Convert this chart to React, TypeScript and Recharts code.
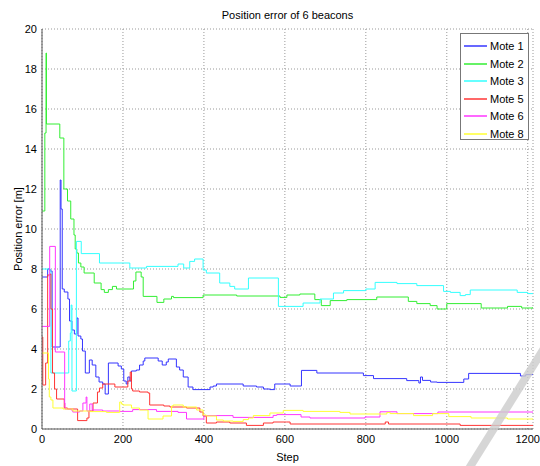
import { LineChart, Line, XAxis, YAxis, CartesianGrid } from "recharts"

// step number, position error [m] (value holds until the next step)
const mote1: [number, number][] = [
  [0, 7.6], [14, 8.0], [20, 7.9], [25, 4.1], [45, 12.45], [47, 11.0], [50, 7.0], [55, 6.85],
  [64, 6.5], [68, 5.4], [74, 4.95], [80, 4.75], [86, 5.55], [89, 4.65], [96, 4.5], [100, 3.9],
  [107, 2.8], [117, 3.45], [124, 3.2], [133, 2.6], [141, 2.35], [150, 2.25], [156, 1.75],
  [164, 3.3], [188, 3.15], [196, 3.0], [202, 2.4], [208, 2.25], [212, 2.6], [217, 2.4],
  [221, 2.9], [233, 2.95], [241, 3.2], [250, 3.4], [254, 3.55], [287, 3.4], [297, 3.2],
  [307, 3.35], [312, 3.5], [332, 3.1], [340, 2.95], [349, 2.6], [361, 2.1], [373, 1.97],
  [415, 2.1], [423, 2.15], [431, 2.25], [497, 2.15], [530, 2.1], [547, 2.0], [563, 1.97],
  [575, 2.25], [613, 2.15], [641, 2.93], [679, 2.8], [794, 2.67], [819, 2.52], [901, 2.42],
  [931, 2.3], [935, 2.6], [940, 2.43], [960, 2.35], [976, 2.33], [1042, 2.5], [1054, 2.78],
  [1182, 2.65], [1195, 2.72], [1213, 2.7],
]

const mote2: [number, number][] = [
  [0, 10.9], [7, 14.8], [10, 18.8], [11, 15.25], [44, 14.55], [54, 12.0], [63, 11.4],
  [71, 10.5], [79, 9.7], [82, 9.0], [86, 8.8], [90, 8.3], [96, 8.1], [104, 7.8], [129, 7.3],
  [146, 6.97], [154, 6.83], [164, 6.97], [174, 7.13], [184, 7.0], [222, 7.0], [226, 7.4],
  [232, 7.85], [245, 7.6], [250, 6.63], [284, 6.33], [301, 6.5], [320, 6.63], [325, 6.57],
  [398, 6.7], [481, 6.65], [588, 6.58], [605, 6.7], [637, 6.75], [674, 6.47], [690, 6.17],
  [712, 6.42], [753, 6.47], [827, 6.6], [905, 6.38], [926, 6.27], [959, 6.17], [976, 6.0],
  [1000, 6.27], [1085, 6.05], [1150, 6.13], [1185, 6.05], [1213, 6.1],
]

const mote3: [number, number][] = [
  [0, 8.0], [20, 7.9], [22, 2.8], [66, 4.4], [70, 4.8], [72, 6.2], [74, 1.9], [85, 9.38],
  [97, 8.77], [142, 8.3], [217, 8.05], [258, 8.13], [336, 8.25], [350, 8.05], [365, 8.38],
  [377, 8.5], [398, 7.95], [406, 7.8], [439, 7.3], [464, 7.13], [476, 7.0], [510, 7.55],
  [584, 6.13], [645, 6.3], [687, 6.5], [720, 6.8], [745, 6.92], [800, 7.0], [823, 7.33],
  [877, 7.27], [926, 7.17], [992, 6.88], [1009, 6.83], [1033, 6.67], [1046, 6.72],
  [1058, 6.95], [1174, 6.83], [1200, 6.77], [1213, 6.77],
]

const mote5: [number, number][] = [
  [0, 4.6], [2, 2.2], [9, 3.3], [14, 7.7], [20, 7.75], [22, 6.0], [26, 2.8], [31, 2.0],
  [36, 1.5], [55, 1.05], [63, 1.0], [88, 0.42], [111, 0.55], [116, 0.9], [126, 1.3],
  [137, 1.85], [142, 2.05], [150, 2.25], [180, 2.1], [212, 2.4], [218, 2.85], [221, 2.0],
  [224, 1.9], [241, 1.85], [262, 1.8], [266, 1.2], [301, 1.15], [316, 1.1], [357, 1.05],
  [390, 0.85], [398, 0.65], [406, 0.3], [431, 0.35], [464, 0.3], [505, 0.18], [547, 0.3],
  [571, 0.35], [604, 0.35], [613, 0.25], [848, 0.35], [856, 0.25], [1033, 0.18], [1213, 0.18],
]

const mote6: [number, number][] = [
  [0, 5.13], [19, 9.13], [33, 3.85], [56, 1.3], [57, 1.0], [72, 0.95], [76, 0.85], [93, 0.9],
  [101, 1.3], [109, 1.6], [111, 0.9], [118, 1.25], [124, 0.95], [150, 0.9], [192, 0.88],
  [224, 0.97], [283, 0.88], [336, 0.83], [357, 0.5], [400, 0.67], [472, 0.58], [571, 0.68],
  [580, 0.72], [640, 0.6], [662, 0.55], [798, 0.6], [835, 0.86], [877, 0.77], [978, 0.85],
  [1213, 0.83],
]

const mote8: [number, number][] = [
  [0, 3.8], [14, 3.8], [16, 2.5], [18, 1.6], [22, 1.45], [27, 1.05], [52, 1.0], [76, 0.9],
  [118, 0.87], [159, 0.83], [192, 1.35], [196, 1.25], [200, 1.2], [221, 1.05], [241, 0.95],
  [262, 0.5], [299, 0.65], [320, 1.15], [324, 1.2], [349, 1.1], [382, 0.95], [398, 0.7],
  [406, 0.65], [431, 0.45], [448, 0.4], [472, 0.38], [497, 0.47], [510, 0.55], [522, 0.67],
  [563, 0.8], [596, 0.93], [645, 0.88], [736, 0.83], [761, 0.75], [852, 0.83], [860, 0.77],
  [918, 0.67], [965, 0.77], [1005, 0.62], [1060, 0.55], [1150, 0.5], [1213, 0.5],
]

const X_TICKS = [0, 200, 400, 600, 800, 1000, 1200]
const Y_TICKS = [0, 2, 4, 6, 8, 10, 12, 14, 16, 18, 20]
const X_MAX = 1213

const SERIES = [
  { name: "Mote 1", color: "#3535ff", points: mote1 },
  { name: "Mote 2", color: "#33ee33", points: mote2 },
  { name: "Mote 3", color: "#33ffff", points: mote3 },
  { name: "Mote 5", color: "#ff3535", points: mote5 },
  { name: "Mote 6", color: "#ff35ff", points: mote6 },
  { name: "Mote 8", color: "#ffff33", points: mote8 },
]

const FONT = "'Liberation Sans', Arial, Helvetica, sans-serif"

export default function App() {
  return (
    <div style={{ position: "absolute", left: 0, top: 0, width: 540, height: 466, background: "#fff", fontFamily: FONT, overflow: "hidden" }}>
      <div style={{ position: "absolute", left: 42, top: 8, width: 491, textAlign: "center", fontSize: 11, lineHeight: "14px", color: "#000" }}>
        Position error of 6 beacons
      </div>
      <LineChart width={540} height={466} margin={{ top: 29, right: 7, left: 0, bottom: 0 }} style={{ fontFamily: FONT }}>
        <CartesianGrid stroke="#999" strokeDasharray="1 2" />
        <XAxis
          type="number"
          dataKey="x"
          domain={[0, X_MAX]}
          ticks={X_TICKS}
          allowDataOverflow
          height={37}
          axisLine={{ stroke: "#555" }}
          tickLine={false}
          tickSize={3}
          tickMargin={3}
          tick={{ fill: "#000", fontSize: 11 }}
          label={{ value: "Step", position: "insideBottom", offset: 5, style: { fontSize: 11, fill: "#000" } }}
        />
        <YAxis
          type="number"
          domain={[0, 20]}
          ticks={Y_TICKS}
          allowDataOverflow
          width={42}
          axisLine={{ stroke: "#555" }}
          tickLine={false}
          tickSize={3}
          tickMargin={2}
          tick={{ fill: "#000", fontSize: 11 }}
          label={{ value: "Position error [m]", angle: -90, position: "insideLeft", offset: 18, style: { textAnchor: "middle", fontSize: 11, fill: "#000" } }}
        />
        {SERIES.map((s) => (
          <Line
            key={s.name}
            name={s.name}
            data={s.points.map(([x, y]) => ({ x, y }))}
            dataKey="y"
            type="stepAfter"
            stroke={s.color}
            strokeWidth={1}
            dot={false}
            activeDot={false}
            isAnimationActive={false}
          />
        ))}
      </LineChart>
      <div style={{ position: "absolute", left: 460, top: 33, width: 69, height: 107, boxSizing: "border-box", border: "1px solid #777", background: "#fff" }}>
        {SERIES.map((s, i) => (
          <div key={s.name} style={{ position: "absolute", left: 0, top: Math.round(3 + i * 17.5), height: 18, width: 67 }}>
            <div style={{ position: "absolute", left: 3, top: 8, width: 23, height: 2, background: s.color, opacity: 0.75 }} />
            <div style={{ position: "absolute", left: 29, top: 2, fontSize: 11, lineHeight: "14px", color: "#000", whiteSpace: "nowrap" }}>{s.name}</div>
          </div>
        ))}
      </div>
      <div style={{ position: "absolute", left: 423, top: 394, width: 180, height: 8, background: "#ccc", opacity: 0.8, transform: "rotate(-58deg)", transformOrigin: "center" }} />
    </div>
  )
}
